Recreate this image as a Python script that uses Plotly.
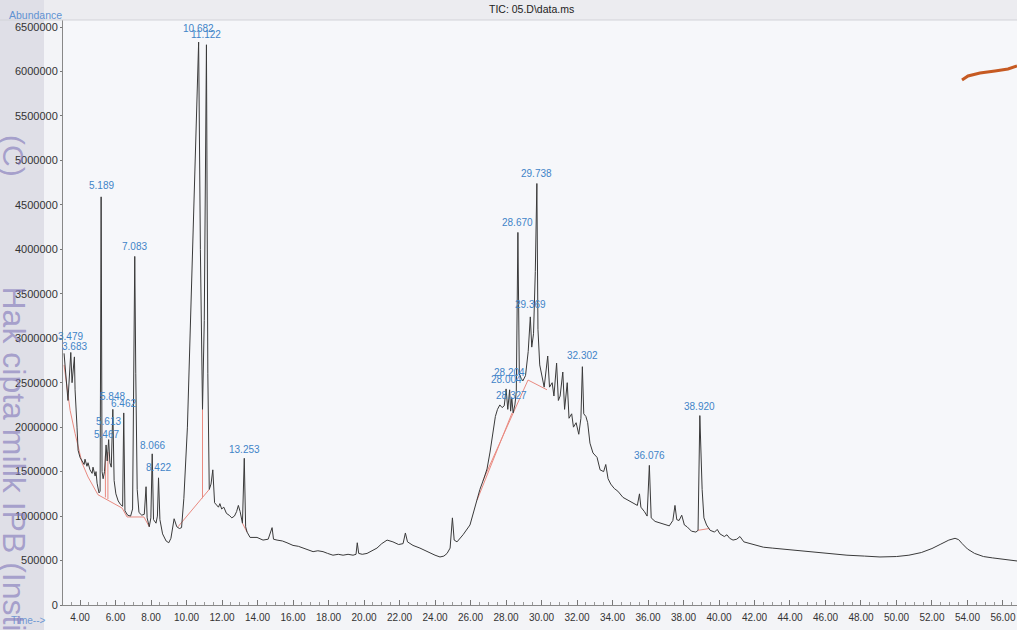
import plotly.graph_objects as go

# ---------------- data ----------------
# (retention time [min], abundance) pairs of the TIC trace, by region
tic_early = [
    (3.10, 2830000), (3.21, 2530000), (3.32, 2300000), (3.479, 2840000), (3.55, 2500000),
    (3.683, 2790000), (3.72, 2420000), (3.83, 2000000), (3.89, 1740000), (4.00, 1660000),
    (4.11, 1620000), (4.23, 1580000), (4.28, 1640000), (4.39, 1560000), (4.45, 1600000),
    (4.56, 1520000), (4.68, 1480000), (4.73, 1550000), (4.85, 1450000), (4.90, 1500000),
    (4.96, 1370000), (5.07, 1260000), (5.13, 1280000), (5.189, 4590000), (5.24, 1500000),
    (5.30, 1420000), (5.38, 1500000), (5.467, 1800000), (5.53, 1620000), (5.613, 1860000),
    (5.68, 1600000), (5.76, 1550000), (5.848, 2200000), (5.92, 1400000), (6.02, 1250000),
    (6.15, 1170000), (6.28, 1130000), (6.40, 1110000), (6.462, 2160000), (6.53, 1060000),
    (6.68, 1010000), (6.85, 1000000), (6.96, 1080000), (7.03, 2900000), (7.083, 3920000),
    (7.14, 2600000), (7.22, 1300000), (7.32, 1040000), (7.48, 1010000), (7.62, 1020000),
    (7.72, 1330000), (7.78, 980000), (7.90, 880000), (7.99, 980000), (8.066, 1700000),
    (8.14, 960000), (8.28, 920000), (8.36, 1000000), (8.422, 1430000), (8.50, 960000),
    (8.65, 800000), (8.85, 720000), (9.00, 700000), (9.12, 750000), (9.25, 950000),
    (9.30, 970000), (9.45, 880000), (9.60, 860000), (9.72, 870000), (9.85, 1200000),
    (10.05, 2000000), (10.25, 3300000), (10.50, 5200000), (10.682, 6330000), (10.78, 4000000),
    (10.90, 2200000), (11.00, 3200000), (11.122, 6300000), (11.20, 2600000), (11.28, 1300000),
    (11.38, 1360000), (11.48, 1520000), (11.58, 1150000), (11.70, 1120000), (11.80, 1100000),
    (11.88, 1140000), (11.98, 1080000), (12.10, 1100000), (12.25, 1030000), (12.40, 1010000),
    (12.55, 980000), (12.70, 1000000), (12.82, 1050000), (12.92, 1120000), (13.02, 1050000),
    (13.15, 920000), (13.253, 1650000), (13.33, 880000), (13.41, 820000), (13.58, 760000),
]
tic_middle = [
    (13.97, 760000), (14.31, 730000), (14.60, 740000), (14.82, 870000), (14.90, 740000),
    (15.10, 730000), (15.40, 720000), (15.66, 700000), (16.00, 670000), (16.30, 660000),
    (16.56, 640000), (16.85, 620000), (17.13, 600000), (17.40, 610000), (17.69, 600000),
    (17.95, 580000), (18.25, 560000), (18.55, 570000), (18.82, 560000), (19.10, 570000),
    (19.38, 560000), (19.55, 570000), (19.62, 700000), (19.70, 580000), (19.90, 570000),
    (20.17, 580000), (20.45, 610000), (20.73, 640000), (21.00, 690000), (21.30, 730000),
    (21.63, 710000), (21.95, 680000), (22.20, 690000), (22.33, 810000), (22.45, 710000),
    (22.76, 670000), (23.15, 640000), (23.45, 610000), (23.72, 580000), (24.00, 560000),
    (24.28, 540000), (24.50, 550000), (24.68, 580000), (24.85, 640000), (24.98, 980000),
    (25.08, 730000), (25.24, 710000), (25.58, 790000), (25.97, 900000), (26.14, 1030000),
    (26.35, 1170000), (26.53, 1300000), (26.75, 1420000), (26.93, 1530000), (27.10, 1720000),
    (27.27, 1970000), (27.40, 2120000), (27.52, 2200000), (27.65, 2250000), (27.78, 2220000),
    (27.90, 2240000), (28.004, 2430000), (28.10, 2200000), (28.204, 2420000), (28.26, 2180000),
    (28.327, 2330000), (28.40, 2160000), (28.50, 2250000), (28.58, 2400000), (28.670, 4190000),
    (28.75, 2600000), (28.85, 2550000), (28.95, 2520000), (29.10, 2580000), (29.25, 2850000),
    (29.369, 3240000), (29.45, 2900000), (29.55, 3050000), (29.65, 3750000), (29.738, 4740000),
    (29.80, 3100000), (29.90, 2700000), (30.03, 2580000), (30.15, 2450000), (30.35, 2800000),
    (30.45, 2450000), (30.60, 2500000), (30.70, 2350000), (30.85, 2720000), (30.95, 2300000),
    (31.05, 2350000), (31.20, 2620000), (31.30, 2200000), (31.45, 2500000), (31.55, 2100000),
    (31.70, 2150000), (31.80, 2000000), (31.95, 2050000), (32.10, 1920000), (32.22, 2100000),
    (32.302, 2680000), (32.38, 2150000), (32.50, 2120000), (32.60, 2050000), (32.73, 1820000),
]
tic_late = [
    (32.90, 1710000), (33.13, 1660000), (33.30, 1520000), (33.50, 1500000), (33.62, 1580000),
    (33.75, 1420000), (33.90, 1360000), (34.10, 1310000), (34.30, 1280000), (34.59, 1210000),
    (34.85, 1180000), (35.10, 1150000), (35.40, 1120000), (35.52, 1250000), (35.60, 1100000),
    (35.80, 1050000), (35.95, 1000000), (36.076, 1570000), (36.18, 980000), (36.40, 940000),
    (36.68, 920000), (37.00, 900000), (37.20, 890000), (37.40, 950000), (37.52, 1120000),
    (37.62, 960000), (37.75, 950000), (37.90, 1010000), (38.05, 900000), (38.20, 880000),
    (38.45, 830000), (38.70, 820000), (38.82, 840000), (38.920, 2130000), (39.05, 1300000),
    (39.15, 980000), (39.30, 900000), (39.50, 840000), (39.75, 820000), (39.90, 850000),
    (40.05, 800000), (40.30, 770000), (40.45, 790000), (40.60, 750000), (40.79, 730000),
    (41.00, 740000), (41.18, 770000), (41.40, 710000), (41.58, 700000), (42.00, 670000),
    (42.50, 650000), (43.00, 640000), (43.50, 630000), (44.00, 620000), (44.50, 610000),
    (45.30, 600000), (46.20, 580000), (47.21, 560000), (48.20, 550000), (49.07, 540000),
    (50.00, 545000), (50.70, 560000), (51.40, 590000), (52.00, 635000), (52.50, 685000),
    (52.95, 730000), (53.30, 750000), (53.50, 735000), (53.70, 690000), (54.00, 630000),
    (54.40, 580000), (54.90, 545000), (55.40, 530000), (55.90, 520000), (56.35, 505000),
    (56.79, 495000),
]

# integration baselines (red) as polylines of (time, abundance)
baseline_segments = [
    [(3.10, 2700000), (3.44, 2190000), (3.72, 1930000), (4.11, 1600000), (4.45, 1440000),
     (5.01, 1240000), (6.37, 1090000), (6.65, 990000), (7.60, 990000), (7.90, 880000)],
    [(5.43, 1210000), (5.43, 1680000)],
    [(5.57, 1190000), (5.57, 1720000)],
    [(9.52, 880000), (11.28, 1300000)],
    [(10.90, 1200000), (10.90, 2200000)],
    [(13.15, 920000), (13.41, 820000)],
    [(26.37, 1180000), (28.34, 2160000)],
    [(26.70, 1400000), (29.24, 2530000), (30.31, 2420000)],
    [(38.82, 840000), (39.45, 860000)],
]

# labelled peaks (retention times printed above the apex)
peak_labels = ["3.479", "3.683", "5.189", "5.467", "5.613", "5.848", "6.462", "7.083",
               "8.066", "8.422", "10.682", "11.122", "13.253", "28.004", "28.204",
               "28.327", "28.670", "29.369", "29.738", "32.302", "36.076", "38.920"]

y_tick_vals = [0, 500000, 1000000, 1500000, 2000000, 2500000, 3000000, 3500000,
               4000000, 4500000, 5000000, 5500000, 6000000, 6500000]
x_tick_vals = [4, 6, 8, 10, 12, 14, 16, 18, 20, 22, 24, 26, 28, 30, 32, 34, 36, 38,
               40, 42, 44, 46, 48, 50, 52, 54, 56]

# ---------------- styling (label offsets in pixels above apex) ----------------
label_shift = {"3.479": 14, "3.683": 8, "5.189": 9, "5.467": 8, "5.613": 16,
               "5.848": 11, "6.462": 7, "7.083": 8, "8.066": 6, "8.422": 8,
               "10.682": 12, "11.122": 8, "13.253": 7, "28.004": 7, "28.204": 15,
               "28.327": 0, "28.670": 8, "29.369": 10, "29.738": 8, "32.302": 9,
               "36.076": 8, "38.920": 7}

tic_points = tic_early + tic_middle + tic_late
time_min = [p[0] for p in tic_points]
abundance = [p[1] for p in tic_points]
apex = dict(tic_points)

W, H = 1017, 630
ML, MR, MT, MB = 63, 0, 20, 25
PW, PH = W - ML - MR, H - MT - MB


def px_x(px):
    return (px - ML) / PW


def px_y(py):
    return (H - MB - py) / PH


fig = go.Figure()

bx, by = [], []
for seg in baseline_segments:
    for t, a in seg:
        bx.append(t)
        by.append(a)
    bx.append(None)
    by.append(None)
fig.add_trace(go.Scatter(x=bx, y=by, mode="lines",
                         line=dict(color="#e98a80", width=1),
                         hoverinfo="skip", showlegend=False))

fig.add_trace(go.Scatter(x=time_min, y=abundance, mode="lines",
                         line=dict(color="#3a3a3a", width=1),
                         showlegend=False))

annotations = []
for lab in peak_labels:
    t = float(lab)
    annotations.append(dict(x=t, y=apex[t], xref="x", yref="y", text=lab,
                            showarrow=False, xanchor="center", yanchor="middle",
                            yshift=label_shift[lab] + 2,
                            font=dict(family="Liberation Sans, Arial", size=10,
                                      color="#3f84c8")))

WM = "rgba(128,118,185,0.62)"
annotations += [
    dict(x=px_x(531), y=px_y(9), xref="paper", yref="paper", showarrow=False,
         xanchor="center", yanchor="middle",
         text="TIC: 05.D\\data.ms",
         font=dict(family="Liberation Sans, Arial", size=10.5, color="#222222")),
    dict(x=px_x(35), y=px_y(15), xref="paper", yref="paper", showarrow=False,
         xanchor="center", yanchor="middle",
         text="Abundance",
         font=dict(family="Liberation Sans, Arial", size=10.5, color="#5f92d2")),
    dict(x=px_x(28), y=px_y(620), xref="paper", yref="paper", showarrow=False,
         xanchor="center", yanchor="middle",
         text="Time-->",
         font=dict(family="Liberation Sans, Arial", size=10, color="#7099d3")),
    dict(x=px_x(14), y=px_y(133), xref="paper", yref="paper", showarrow=False,
         xanchor="center", yanchor="top", textangle=90,
         text="(C)",
         font=dict(family="Liberation Sans, Arial", size=30, color=WM)),
    dict(x=px_x(14), y=px_y(284), xref="paper", yref="paper", showarrow=False,
         xanchor="center", yanchor="top", textangle=90,
         text="Hak cipta milik IPB (Institut Pertanian Bogor)",
         font=dict(family="Liberation Sans, Arial", size=32, color=WM)),
]

shapes = [
    dict(type="rect", xref="paper", yref="paper", layer="below",
         x0=px_x(0), x1=px_x(W), y0=px_y(20), y1=px_y(0),
         fillcolor="#ececf0", line=dict(width=0)),
    dict(type="rect", xref="paper", yref="paper", layer="below",
         x0=px_x(0), x1=px_x(44), y0=px_y(H), y1=px_y(0),
         fillcolor="#dfdfe7", line=dict(width=0)),
    dict(type="line", xref="paper", yref="paper",
         x0=px_x(0), x1=px_x(W), y0=px_y(20), y1=px_y(20),
         line=dict(color="#d2d3d8", width=1)),
    dict(type="path", xref="paper", yref="paper",
         path=(f"M {px_x(962)},{px_y(80)} L {px_x(968)},{px_y(76)} "
               f"L {px_x(980)},{px_y(73)} L {px_x(995)},{px_y(71)} "
               f"L {px_x(1008)},{px_y(69)} L {px_x(1017)},{px_y(66)}"),
         line=dict(color="#c65a22", width=3)),
]

fig.update_layout(
    width=W, height=H, autosize=False,
    margin=dict(l=ML, r=MR, t=MT, b=MB, pad=0),
    paper_bgcolor="#f3f4f7", plot_bgcolor="#f6f7fa",
    showlegend=False,
    annotations=annotations, shapes=shapes,
    xaxis=dict(range=[3.04, 56.79], tickmode="array", tickvals=x_tick_vals,
               ticktext=[f"{v:.2f}" for v in x_tick_vals],
               ticks="inside", ticklen=5, tickcolor="#777777",
               minor=dict(tickmode="linear", tick0=0, dtick=0.5, ticks="inside",
                          ticklen=3, tickcolor="#999999"),
               showline=True, linecolor="#888888", linewidth=1,
               showgrid=False, zeroline=False, ticklabelstandoff=3,
               tickfont=dict(family="Liberation Sans, Arial", size=10, color="#333333")),
    yaxis=dict(range=[0, 6578700], tickmode="array", tickvals=y_tick_vals,
               ticktext=[str(v) for v in y_tick_vals],
               ticks="outside", ticklen=2, tickcolor="#777777",
               showline=True, linecolor="#888888", linewidth=1,
               showgrid=False, zeroline=False,
               tickfont=dict(family="Liberation Sans, Arial", size=11, color="#333333")),
)

fig.write_html("out.html")
